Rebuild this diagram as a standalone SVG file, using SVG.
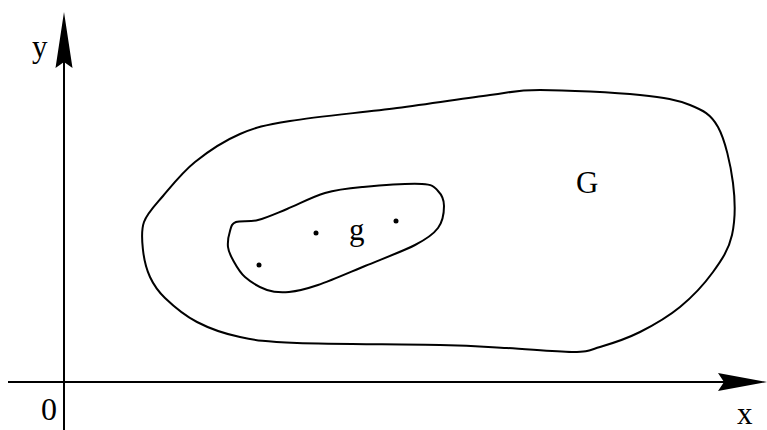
<svg xmlns="http://www.w3.org/2000/svg" width="767" height="430" viewBox="0 0 767 430">
<style>
.ln{fill:none;stroke:#000;stroke-width:2;stroke-linejoin:round}
.ax{fill:none;stroke:#000;stroke-width:2}
.hd{fill:#000;stroke:none}
.t{font-family:"Liberation Serif","Times New Roman",serif;font-size:31px;fill:#000}
.dot{fill:#000}
</style>
<rect width="767" height="430" fill="#fff"/>
<g id="axes">
  <line class="ax" x1="64" y1="60" x2="64" y2="430"/>
  <polygon class="hd" points="64,12 72.5,68 64,62 55.5,68"/>
  <line class="ax" x1="8" y1="382" x2="725" y2="382"/>
  <polygon class="hd" points="767,382 718,391 724,382 718,373"/>
  <text class="t" x="32" y="57">y</text>
  <text class="t" x="737" y="424">x</text>
  <text class="t" x="41" y="420" style="font-size:32px">0</text>
</g>
<g id="G">
  <path class="ln" d="M144,222 C147.3,213 154.5,206 163,196 C171.5,186 182.2,172.3 195,162 C207.8,151.7 224.2,140.8 240,134 C255.8,127.2 263.8,125.3 290,121 C316.2,116.7 363.7,112.3 397,108 C430.3,103.7 466.2,98 490,95 C513.8,92 515,90 540,90 C565,90 615,92.5 640,95 C665,97.5 677,99.7 690,105 C703,110.3 710.8,114 718,127 C725.2,140 730.7,165 733,183 C735.3,201 735.3,220.2 732,235 C728.7,249.8 721.7,260 713,272 C704.3,284 692.2,297 680,307 C667.8,317 653.3,325.3 640,332 C626.7,338.7 611.2,343.7 600,347 C588.8,350.3 588.5,351.8 573,352 C557.5,352.2 529.2,349.2 507,348 C484.8,346.8 475,345.8 440,345 C405,344.2 330.3,344.3 297,343 C263.7,341.7 256.7,340.5 240,337 C223.3,333.5 209.5,328.5 197,322 C184.5,315.5 172.8,305.5 165,298 C157.2,290.5 153.7,285 150,277 C146.3,269 144,259.2 143,250 C142,240.8 140.7,231.2 144,222 Z"/>
  <text class="t" x="576" y="193">G</text>
</g>
<g id="g">
  <path class="ln" d="M236,222 C240.7,220.2 249.5,222.2 258,220 C266.5,217.8 275.8,213.5 287,209 C298.2,204.5 312.3,196.7 325,193 C337.7,189.3 346.8,188.5 363,187 C379.2,185.5 409.5,183.3 422,184 C434.5,184.7 434.3,187.3 438,191 C441.7,194.7 444,199.8 444,206 C444,212.2 442.8,221.5 438,228 C433.2,234.5 427.2,238.7 415,245 C402.8,251.3 381.2,259.3 365,266 C348.8,272.7 330.7,280.7 318,285 C305.3,289.3 297.5,291.2 289,292 C280.5,292.8 274.3,292.5 267,290 C259.7,287.5 250.7,282 245,277 C239.3,272 235.8,265 233,260 C230.2,255 228.5,251.8 228,247 C227.5,242.2 228.7,235.2 230,231 C231.3,226.8 231.3,223.8 236,222 Z"/>
  <text class="t" x="349" y="240">g</text>
  <circle class="dot" cx="259" cy="265" r="2.5"/>
  <circle class="dot" cx="316" cy="233" r="2.5"/>
  <circle class="dot" cx="396" cy="221" r="2.5"/>
</g>
</svg>
